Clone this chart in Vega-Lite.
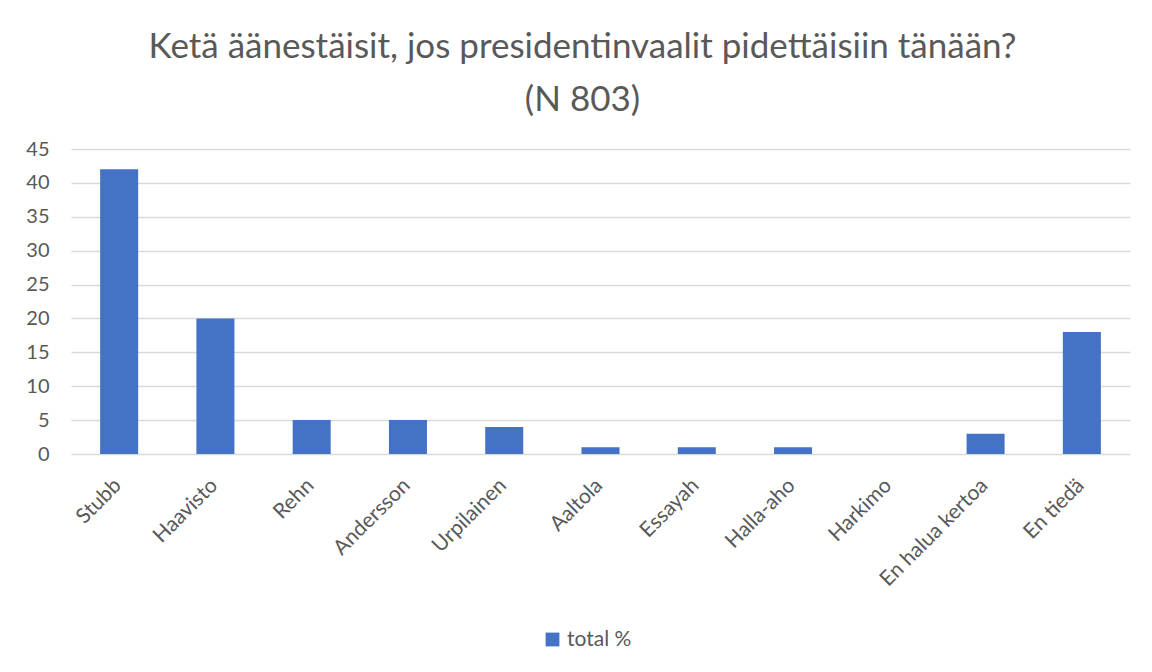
{
  "$schema": "https://vega.github.io/schema/vega-lite/v6.json",
  "autosize": "none",
  "width": 1059,
  "height": 305,
  "padding": {"left": 71, "top": 149, "right": 22, "bottom": 218},
  "background": "white",
  "title": {
    "text": ["Ketä äänestäisit, jos presidentinvaalit pidettäisiin tänään?", "(N 803)"],
    "anchor": "middle",
    "frame": "group",
    "dx": -18,
    "offset": 21,
    "font": "Lato",
    "fontSize": 35,
    "fontWeight": "normal",
    "color": "#595959",
    "lineHeight": 53
  },
  "data": {
    "values": [
      {"candidate": "Stubb", "value": 42, "series": "total %"},
      {"candidate": "Haavisto", "value": 20, "series": "total %"},
      {"candidate": "Rehn", "value": 5, "series": "total %"},
      {"candidate": "Andersson", "value": 5, "series": "total %"},
      {"candidate": "Urpilainen", "value": 4, "series": "total %"},
      {"candidate": "Aaltola", "value": 1, "series": "total %"},
      {"candidate": "Essayah", "value": 1, "series": "total %"},
      {"candidate": "Halla-aho", "value": 1, "series": "total %"},
      {"candidate": "Harkimo", "value": 0, "series": "total %"},
      {"candidate": "En halua kertoa", "value": 3, "series": "total %"},
      {"candidate": "En tiedä", "value": 18, "series": "total %"}
    ]
  },
  "mark": {"type": "bar"},
  "encoding": {
    "x": {
      "field": "candidate",
      "type": "nominal",
      "sort": null,
      "scale": {"paddingInner": 0.605, "paddingOuter": 0.3025},
      "axis": {
        "title": null,
        "labelAngle": -45,
        "labelAlign": "right",
        "labelBaseline": "middle",
        "labelPadding": 28,
        "labelOffset": -1,
        "ticks": false,
        "domain": false,
        "labelFont": "Lato",
        "labelFontSize": 21,
        "labelColor": "#595959"
      }
    },
    "y": {
      "field": "value",
      "type": "quantitative",
      "scale": {"domain": [0, 45]},
      "axis": {
        "title": null,
        "values": [0, 5, 10, 15, 20, 25, 30, 35, 40, 45],
        "ticks": false,
        "domain": false,
        "grid": true,
        "gridColor": "#D9D9D9",
        "gridWidth": 1.3,
        "labelPadding": 22,
        "labelFont": "Lato",
        "labelFontSize": 20,
        "labelColor": "#595959"
      }
    },
    "color": {
      "field": "series",
      "type": "nominal",
      "scale": {"range": ["#4472C4"]},
      "legend": {
        "title": null,
        "orient": "none",
        "legendX": 471,
        "legendY": 480,
        "direction": "horizontal",
        "symbolType": "square",
        "symbolSize": 190,
        "symbolStrokeWidth": 0,
        "labelFont": "Lato",
        "labelFontSize": 21,
        "labelColor": "#595959"
      }
    }
  },
  "config": {
    "view": {"stroke": null}
  }
}
